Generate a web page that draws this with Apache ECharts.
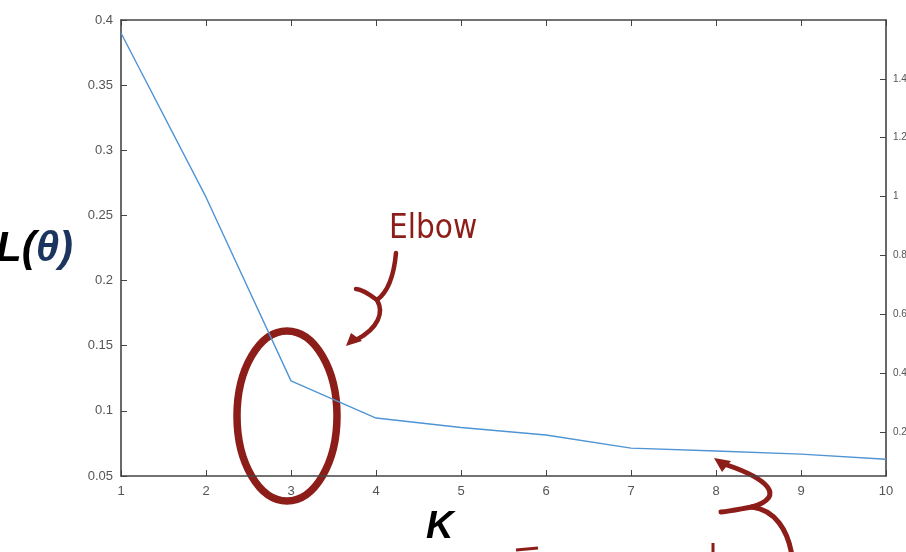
<!DOCTYPE html>
<html>
<head>
<meta charset="utf-8">
<script src="https://cdn.jsdelivr.net/npm/echarts@6/dist/echarts.min.js"></script>
<style>
  html, body { margin: 0; padding: 0; background: #fff; }
  #chart { width: 906px; height: 552px; }
</style>
</head>
<body>
<div id="chart"></div>
<script>
// 数据
const kValues = [1, 2, 3, 4, 5, 6, 7, 8, 9, 10];
const lossValues = [0.39, 0.264, 0.123, 0.0945, 0.0872, 0.0815, 0.0714, 0.0692, 0.0668, 0.0628];
const rightTicks = [0.2, 0.4, 0.6, 0.8, 1, 1.2, 1.4];

const darkRed = '#8c1d18';
const axisColor = '#444';
const fontFamily = 'Liberation Sans, Arial, sans-serif';

// 手绘曲线箭头，由几段贝塞尔曲线组成
function curve(segs, width) {
    return segs.map(s => ({
        type: 'bezierCurve',
        shape: { x1: s[0], y1: s[1], cpx1: s[2], cpy1: s[3], cpx2: s[4], cpy2: s[5], x2: s[6], y2: s[7] },
        style: { fill: 'none', stroke: darkRed, lineWidth: width || 4.5, lineCap: 'round' }
    }));
}

const chart = echarts.init(document.getElementById('chart'));

const option = {
    backgroundColor: '#fff',
    animation: false,
    grid: { left: 121, right: 20, top: 20, bottom: 76, outerBoundsMode: 'none', containLabel: false },
    xAxis: [
        {
            type: 'value', min: 1, max: 10, interval: 1,
            axisLine: { show: true, lineStyle: { color: axisColor, width: 1.6 } },
            axisTick: { inside: true, length: 6, lineStyle: { color: axisColor } },
            axisLabel: { margin: 9, color: '#555', fontSize: 13, fontFamily: fontFamily },
            splitLine: { show: false }
        },
        {
            type: 'value', position: 'top', min: 1, max: 10, interval: 1,
            axisLine: { show: true, onZero: false, lineStyle: { color: axisColor, width: 1.6 } },
            axisTick: { inside: true, length: 6, lineStyle: { color: axisColor } },
            axisLabel: { show: false },
            splitLine: { show: false }
        }
    ],
    yAxis: [
        {
            type: 'value', min: 0.05, max: 0.4, interval: 0.05,
            axisLine: { show: true, lineStyle: { color: axisColor, width: 1.6 } },
            axisTick: { show: true, inside: true, length: 6, lineStyle: { color: axisColor } },
            axisLabel: { margin: 8, color: '#555', fontSize: 13, fontFamily: fontFamily },
            splitLine: { show: false }
        },
        {
            type: 'value', position: 'right', min: 0.05, max: 1.6,
            axisLine: { show: true, lineStyle: { color: axisColor, width: 1.6 } },
            axisTick: { show: true, inside: true, length: 6, customValues: rightTicks, lineStyle: { color: axisColor } },
            axisLabel: { margin: 7, customValues: rightTicks, fontSize: 10, color: '#555', fontFamily: fontFamily },
            splitLine: { show: false }
        }
    ],
    series: [
        {
            type: 'line',
            data: kValues.map((k, i) => [k, lossValues[i]]),
            showSymbol: false,
            lineStyle: { color: '#4f94d4', width: 1.4 },
            itemStyle: { color: '#4f94d4' }
        }
    ],
    graphic: [
        // 纵轴标题 L(θ)
        {
            type: 'text', x: -4, y: 228,
            style: {
                text: '{a|L(}{b|θ)}',
                rich: {
                    a: { fontSize: 42, fontWeight: 'bold', fontStyle: 'italic', fill: '#000', fontFamily: fontFamily },
                    b: { fontSize: 42, fontWeight: 'bold', fontStyle: 'italic', fill: '#1c355e', fontFamily: fontFamily }
                }
            }
        },
        // 横轴标题 K
        {
            type: 'text', x: 426, y: 509,
            style: { text: 'K', fontSize: 38, fontWeight: 'bold', fontStyle: 'italic', fill: '#000', fontFamily: fontFamily }
        },
        // Elbow 注释
        {
            type: 'text', x: 389, y: 213,
            style: { text: 'Elbow', fontSize: 33, fill: darkRed, fontFamily: 'DejaVu Sans Condensed, DejaVu Sans', letterSpacing: 1 }
        },
        {
            type: 'ellipse',
            shape: { cx: 287, cy: 416, rx: 50, ry: 85 },
            style: { fill: 'none', stroke: darkRed, lineWidth: 7.5 }
        },
        ...curve([
            [396, 253, 394, 275, 388, 292, 377, 300],
            [377, 300, 369, 294, 361, 289, 356, 289],
            [377, 300, 384, 312, 379, 328, 356, 340]
        ]),
        {
            type: 'polygon',
            shape: { points: [[346, 346], [351, 333], [362, 341]] },
            style: { fill: darkRed }
        },
        // 下方箭头
        ...curve([
            [727, 465, 765, 478, 788, 496, 752, 507],
            [752, 507, 740, 509, 731, 511, 721, 512],
            [752, 507, 775, 510, 788, 530, 792, 556]
        ], 5),
        {
            type: 'polygon',
            shape: { points: [[714, 458], [731, 461], [722, 472]] },
            style: { fill: darkRed }
        },
        // 截断的文字笔画
        {
            type: 'line',
            shape: { x1: 516, y1: 550, x2: 538, y2: 548 },
            style: { stroke: darkRed, lineWidth: 3 }
        },
        {
            type: 'line',
            shape: { x1: 713, y1: 543, x2: 713, y2: 556 },
            style: { stroke: darkRed, lineWidth: 3 }
        }
    ]
};

chart.setOption(option);
</script>
</body>
</html>
